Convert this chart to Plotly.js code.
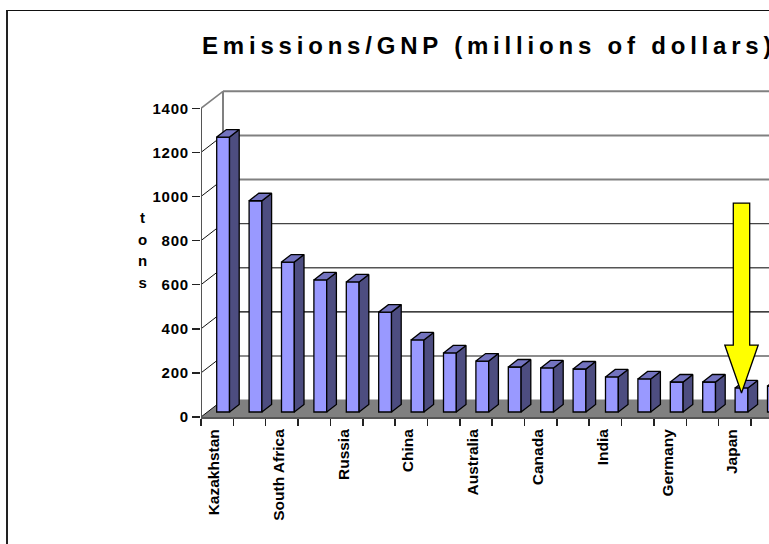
<!DOCTYPE html>
<html>
<head>
<meta charset="utf-8">
<script src="https://cdn.plot.ly/plotly-3.0.1.min.js"></script>
<style>
  html, body { margin: 0; padding: 0; background: #fff; overflow: hidden; }
  #frame { position: absolute; left: 6px; top: 10px; width: 800px; height: 600px;
           border-left: 2px solid #222; border-top: 1.5px solid #111; }
  #chart { position: absolute; left: 0; top: 0; width: 769px; height: 544px; }
  .gtitle { letter-spacing: 4.8px; }
  .ytick text { letter-spacing: 0.8px; }
</style>
</head>
<body>
<div id="frame"></div>
<div id="chart"></div>
<script>
// Emission intensity by country, tons per million dollars of GNP.
const countries = ['Kazakhstan', '', 'South Africa', '', 'Russia', '', 'China', '', 'Australia', '',
                   'Canada', '', 'India', '', 'Germany', '', 'Japan', ''];
const emissions = [1247, 958, 680, 599, 590, 453, 327, 268, 231, 204, 200, 195, 159, 150, 136, 136, 109, 118];
const yTicks = [0, 200, 400, 600, 800, 1000, 1200, 1400];
const gridColors = ['#808080', '#666', '#000', '#555', '#444', '#808080', '#808080', '#808080'];
const gridWidths = [1, 1.5, 1.2, 1.5, 1.2, 2, 2, 2];

// Pseudo-3D projection: one step into the chart's depth moves a point by these axis units.
const CAT_PX = 32.4, UNIT_PX = 0.2205;
const DEPTH_X = 22 / CAT_PX, DEPTH_Y = 17 / UNIT_PX;
const BAR_LEFT = 0.285, BAR_W = 0.395, BAR_FRONT = 0.294, BAR_BACK = 0.735;
const XMAX = 568 / CAT_PX, YMAX = 337 / UNIT_PX;
const dx = d => d * DEPTH_X, dy = d => d * DEPTH_Y;

// Floor, back wall and side wall are drawn under the bars.
const line = (x0, y0, x1, y1, color, width) => ({
  type: 'line', layer: 'below', x0, y0, x1, y1, line: { color, width }
});
const shapes = [{
  type: 'path', layer: 'below', fillcolor: '#808080', line: { width: 0 },
  path: `M0,0 L${dx(1)},${dy(1)} L${XMAX},${dy(1)} L${XMAX},0 Z`
}];
yTicks.forEach((v, k) => {
  shapes.push(line(dx(1), v + dy(1), XMAX, v + dy(1), gridColors[k], gridWidths[k]));
  shapes.push(line(0, v, dx(1), v + dy(1), v === 1400 ? '#808080' : '#111', v === 1400 ? 1.5 : 1));
});
shapes.push(line(dx(1), dy(1), dx(1), 1400 + dy(1), '#808080', 2));
shapes.push(line(0, 0, 0, 1400, '#555', 2));

// Side and top faces of every bar, projected from its value.
const sideX = [], sideY = [], topX = [], topY = [];
emissions.forEach((v, i) => {
  const l = i + BAR_LEFT, r = l + BAR_W;
  const fx = dx(BAR_FRONT), bx = dx(BAR_BACK), fy = dy(BAR_FRONT), by = dy(BAR_BACK);
  sideX.push(r + fx, r + bx, r + bx, r + fx, r + fx, null);
  sideY.push(fy, by, v + by, v + fy, fy, null);
  topX.push(l + fx, r + fx, r + bx, l + bx, l + fx, null);
  topY.push(v + fy, v + fy, v + by, v + by, v + fy, null);
});
const edge = { color: '#000', width: 1.3 };
const face = (x, y, fillcolor) => ({
  type: 'scatter', mode: 'lines', x, y, fill: 'toself', fillcolor, line: edge, hoverinfo: 'skip', showlegend: false
});

const frontFaces = {
  type: 'bar',
  x: emissions.map((_, i) => i + BAR_LEFT + BAR_W / 2 + dx(BAR_FRONT)),
  y: emissions,
  base: emissions.map(() => dy(BAR_FRONT)),
  width: BAR_W,
  marker: { color: '#9999FF', line: edge },
  hovertemplate: '%{y}<extra></extra>', showlegend: false
};

// Callout arrow aimed at the Japan bar.
const JAPAN = countries.indexOf('Japan');
const tipX = JAPAN + BAR_LEFT + BAR_W / 2 + dx(BAR_FRONT);
const tipY = emissions[JAPAN] + dy(BAR_FRONT) - 23;
const ax = p => tipX + p / CAT_PX, ay = p => tipY + p / UNIT_PX;
const arrow = {
  type: 'scatter', mode: 'lines', fill: 'toself', fillcolor: '#FFFF00',
  line: { color: '#000', width: 1.3 }, hoverinfo: 'skip', showlegend: false,
  x: [ax(0), ax(-16.7), ax(-8.2), ax(-8.2), ax(8.2), ax(8.2), ax(16.7), ax(0)],
  y: [ay(0), ay(48), ay(48), ay(190), ay(190), ay(48), ay(48), ay(0)]
};

const labelTicks = countries.map((c, i) => c ? i + 0.4 : null).filter(v => v !== null);

const layout = {
  width: 769, height: 544,
  margin: { l: 201, r: 0, t: 80, b: 127 },
  paper_bgcolor: 'rgba(0,0,0,0)', plot_bgcolor: 'rgba(0,0,0,0)',
  font: { family: 'Liberation Sans, Arial, sans-serif', color: '#000' },
  title: {
    text: '<b>Emissions/GNP (millions of dollars)</b>',
    xref: 'container', x: 202 / 769, xanchor: 'left', yref: 'container', y: 1 - 46 / 544, yanchor: 'middle',
    font: { size: 24, family: 'Liberation Sans, Arial, sans-serif', color: '#000' }
  },
  bargap: 0, showlegend: false, shapes,
  xaxis: {
    range: [0, XMAX], showgrid: false, zeroline: false, fixedrange: true,
    showline: true, linecolor: '#555', linewidth: 2,
    tickmode: 'array', tickvals: labelTicks, ticktext: countries.filter(c => c),
    ticks: '', tickangle: -90, tickfont: { size: 15.5, family: 'Liberation Sans, Arial, sans-serif', weight: 700, color: '#000' },
    ticklabelstandoff: 4,
    minor: { tickmode: 'array', tickvals: countries.map((_, i) => i * 32.35 / CAT_PX), ticks: 'outside', ticklen: 7, tickwidth: 1.5, tickcolor: '#222', showgrid: false }
  },
  yaxis: {
    range: [0, YMAX], showgrid: false, zeroline: false, showline: false, fixedrange: true,
    tickmode: 'array', tickvals: yTicks, ticktext: yTicks.map(String),
    ticks: 'outside', ticklen: 8, tickwidth: 1.5, tickcolor: '#222',
    tickfont: { size: 15, family: 'Liberation Sans, Arial, sans-serif', weight: 700, color: '#000' }
  },
  annotations: [{
    xref: 'paper', yref: 'paper', x: (142 - 201) / 568, y: (417 - 250) / 337, showarrow: false,
    xanchor: 'center', yanchor: 'middle', align: 'center',
    font: { size: 16.6, family: 'Liberation Sans, Arial, sans-serif', color: '#000' },
    text: ['t', 'o', 'n', 's'].map(c => `<span style="font-size:15px"><b>${c}</b></span>`).join('<br>')
  }]
};

Plotly.newPlot('chart', [frontFaces, face(sideX, sideY, '#4D4D80'), face(topX, topY, '#7373BF'), arrow], layout,
  { displayModeBar: false, staticPlot: true });
</script>
</body>
</html>
